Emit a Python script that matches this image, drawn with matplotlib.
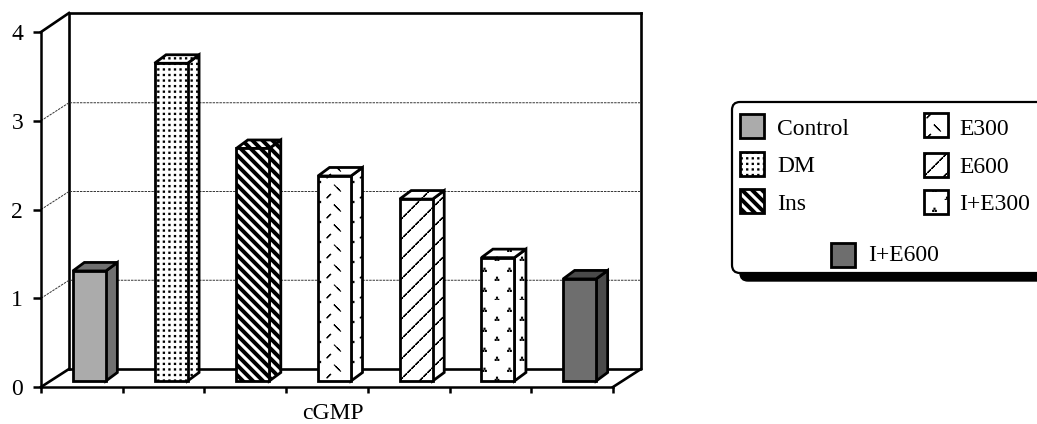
import numpy as np
import matplotlib
matplotlib.use('Agg')
import matplotlib.pyplot as plt
import matplotlib.hatch as mhatch
from matplotlib.patches import FancyBboxPatch, Polygon, Rectangle
from matplotlib.path import Path

# Datos
categorias = ['Control', 'DM', 'Ins', 'E300', 'E600', 'I+E300', 'I+E600']
valores = [1.24, 3.58, 2.62, 2.31, 2.05, 1.39, 1.15]
rellenos = ['#ababab', 'white', 'white', 'white', 'white', 'white', '#6e6e6e']
laterales = ['#707070', 'white', 'white', 'white', 'white', 'white', '#4a4a4a']
tramas = [None, 'd', 'i', 'e', 'f', 't', None]
yticks = [0, 1, 2, 3, 4]
etiqueta_x = 'cGMP'

W, H = 1037, 424
plt.rcParams['font.family'] = ['Liberation Serif', 'DejaVu Serif']
plt.rcParams['hatch.linewidth'] = 0.8


####################################################################################################
# Tramas propias (una baldosa de 100 px a dpi=100)
####################################################################################################
def cuadro(x, y, s):
    return [(x - s, y - s), (x + s, y - s), (x + s, y + s), (x - s, y + s)]


def trazo(x, y, dx, dy, t=0.002):
    return [(x - dx, y - dy), (x - dx + t, y - dy - t), (x + dx + t, y + dy - t), (x + dx, y + dy)]


def baldosa_puntos():
    n = 18
    return [cuadro((i + .5) / n, (j + .5) / n, .006) for i in range(n) for j in range(n)]


def baldosa_ins():
    n = 10
    return [[(k / n, 1), (k / n + 1, 0), (k / n + 1.04, 0), (k / n + .04, 1)] for k in range(-n, n + 1)]


def baldosa_e600():
    # lineas punteadas a 45 grados
    p = []
    for k in range(-5, 6):
        for s in np.arange(0, 1, .04):
            p.append(trazo(s + .01, s + k * .2 + .01, .014, .014))
    return p


def baldosa_e300():
    p = []
    for c in range(3):
        for r in range(5):
            p.append(trazo((c + .86) / 3, (r + .2) / 5, .018, .018))
            p.append(trazo((c + .12) / 3, (r + .6) / 5, .018, -.018))
            p.append(cuadro((c + .6) / 3, (r + .9) / 5, .006))
    return p


def baldosa_ie300():
    p = []
    for c in range(4):
        for r in range(5):
            for cx, cy in [((c + .88) / 4, (r + .05) / 5), ((c + .38) / 4, (r + .5) / 5)]:
                p.append(cuadro(cx, cy + .013, .005))
                p.append(cuadro(cx - .013, cy - .009, .005))
                p.append(cuadro(cx + .013, cy - .009, .005))
    return p


def crear_trama(letra, poligonos):
    class Trama(mhatch.HatchPatternBase):
        def __init__(self, hatch, density):
            self.activa = letra in (hatch or '')
            self.num_vertices = 5 * len(poligonos) if self.activa else 0

        def set_vertices_and_codes(self, vertices, codes):
            if not self.activa:
                return
            for i, pol in enumerate(poligonos):
                vertices[5 * i:5 * i + 4] = pol
                vertices[5 * i + 4] = pol[0]
                codes[5 * i] = Path.MOVETO
                codes[5 * i + 1:5 * i + 4] = Path.LINETO
                codes[5 * i + 4] = Path.CLOSEPOLY
    return Trama


mhatch._hatch_types.extend([
    crear_trama('d', baldosa_puntos()),
    crear_trama('i', baldosa_ins()),
    crear_trama('e', baldosa_e300()),
    crear_trama('f', baldosa_e600()),
    crear_trama('t', baldosa_ie300()),
])

####################################################################################################
# Figura
####################################################################################################
fig = plt.figure(figsize=(W / 100, H / 100), dpi=100, facecolor='white')

# capa en pixeles para paredes y leyenda
capa = fig.add_axes([0, 0, 1, 1], zorder=0)
capa.set_xlim(0, W)
capa.set_ylim(H, 0)
capa.axis('off')

# plano frontal del grafico
ax = fig.add_axes([41 / W, (H - 387) / H, 572 / W, 355 / H], zorder=1)
ax.patch.set_alpha(0)
ax.set_xlim(0, 7)
ax.set_ylim(0, 4)
for lado in ['top', 'right']:
    ax.spines[lado].set_visible(False)
for lado in ['left', 'bottom']:
    ax.spines[lado].set_linewidth(1.8)
ax.set_yticks(yticks)
ax.tick_params(axis='y', length=5.8, width=1.8, pad=7, labelsize=17)
ax.set_xticks(range(8))
ax.set_xticklabels([])
ax.tick_params(axis='x', length=4.5, width=1.8)

# paredes
prof_x = 28
prof_y = 18
negro = dict(color='black', lw=1.9, solid_capstyle='projecting')
capa.plot([41 + prof_x, 613 + prof_x, 613 + prof_x], [369, 369, 13], **negro)
capa.plot([41 + prof_x, 41 + prof_x, 613 + prof_x], [369, 13, 13], **negro)
capa.plot([41, 41 + prof_x], [32, 13], **negro)
capa.plot([41, 41 + prof_x], [387, 369], **negro)
capa.plot([613, 613 + prof_x], [387, 369], **negro)

# rejilla
dx_px = prof_x / (572 / 7)
dy_px = prof_y / (355 / 4)
for v in yticks[1:-1]:
    ax.plot([0, dx_px, 7 + dx_px], [v, v + dy_px, v + dy_px], color='#333333', lw=0.7,
            ls=(0, (2.5, 1)), clip_on=False, zorder=1)

# barras
ancho = 33 / (572 / 7)
base = 6 / (355 / 4)
lado_x = 11.5 / (572 / 7)
lado_y = 8.5 / (355 / 4)
xs = np.arange(len(valores)) + 0.5 + 7.5 / (572 / 7)
for x, v, cf, cl, tr in zip(xs, valores, rellenos, laterales, tramas):
    x0, x1 = x - ancho / 2, x + ancho / 2
    y0, y1 = base, base + v
    lat = Polygon([(x1, y0), (x1 + lado_x, y0 + lado_y), (x1 + lado_x, y1 + lado_y), (x1, y1)],
                  facecolor=cl, edgecolor='black', lw=2, hatch=tr, zorder=3, clip_on=False)
    sup = Polygon([(x0, y1), (x0 + lado_x, y1 + lado_y), (x1 + lado_x, y1 + lado_y), (x1, y1)],
                  facecolor=cl, edgecolor='black', lw=2, hatch=tr, zorder=3, clip_on=False)
    ax.add_patch(lat)
    ax.add_patch(sup)
    ax.bar(x, v, ancho, bottom=base, color=cf, edgecolor='black', lw=2, hatch=tr, zorder=4)

capa.text(333, 419, etiqueta_x, fontsize=17, ha='center', va='baseline')

# leyenda
redondeo = 'round,pad=0,rounding_size=8'
capa.add_patch(FancyBboxPatch((740, 110), 320, 171, boxstyle=redondeo, fc='black', ec='black', lw=1))
capa.add_patch(FancyBboxPatch((732, 102), 320, 171, boxstyle=redondeo, fc='white', ec='black', lw=1.6))
pos_leyenda = [(740, 114, 777, 135), (740, 152, 777, 172), (740, 189, 777, 210),
               (924, 113, 959, 135), (924, 153, 959, 173), (924, 190, 959, 210),
               (831, 243, 868, 261)]
for nombre, cf, tr, (xc, yc, xt, yt) in zip(categorias, rellenos, tramas, pos_leyenda):
    capa.add_patch(Rectangle((xc, yc), 24, 24, facecolor=cf, edgecolor='black', lw=2, hatch=tr))
    capa.text(xt, yt, nombre, fontsize=17, va='baseline')

fig.savefig('out.png', dpi=100)
